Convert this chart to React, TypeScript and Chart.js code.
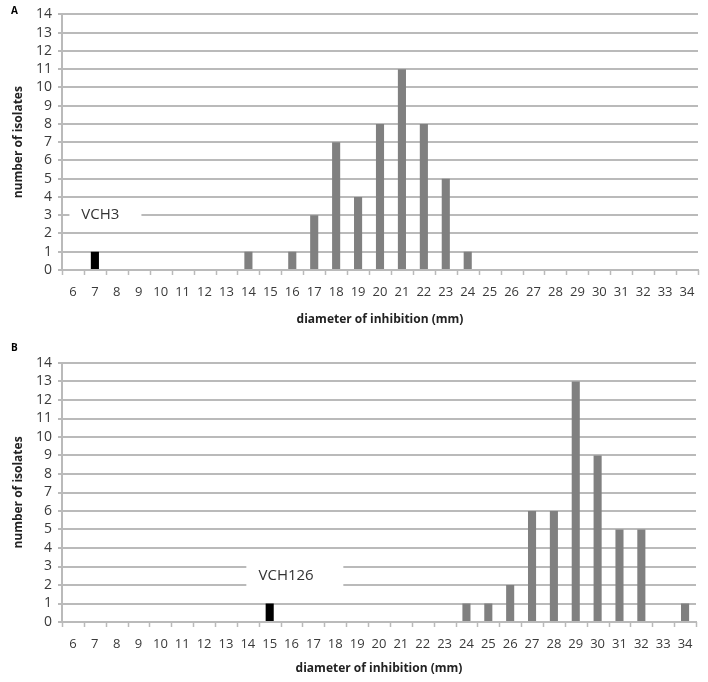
import React, { useEffect, useRef } from "react";
import { Chart, registerables } from "chart.js";

Chart.register(...registerables);

const diameters = [
  "6", "7", "8", "9", "10", "11", "12", "13", "14", "15", "16", "17", "18", "19", "20",
  "21", "22", "23", "24", "25", "26", "27", "28", "29", "30", "31", "32", "33", "34",
];
const isolatesA = [0, 1, 0, 0, 0, 0, 0, 0, 1, 0, 1, 3, 7, 4, 8, 11, 8, 5, 1, 0, 0, 0, 0, 0, 0, 0, 0, 0, 0];
const isolatesB = [0, 0, 0, 0, 0, 0, 0, 0, 0, 1, 0, 0, 0, 0, 0, 0, 0, 0, 1, 1, 2, 6, 6, 13, 9, 5, 5, 0, 1];
const referenceA = "7";
const referenceB = "15";
const strainA = "VCH3";
const strainB = "VCH126";
const yTicks = [0, 14];

const GRID = "#bababa";
const FONT = "'Open Sans', 'Liberation Sans', Arial, sans-serif";

const labelBoxPlugin = {
  id: "labelBox",
  beforeDatasetsDraw(chart: any, _args: any, opts: any) {
    if (!opts || !opts.text) return;
    const xs = chart.scales.x;
    const ys = chart.scales.y;
    const ctx = chart.ctx;
    const bx = xs.getPixelForValue(opts.boxX);
    const cy = ys.getPixelForValue(opts.y);
    ctx.save();
    ctx.fillStyle = "#ffffff";
    ctx.fillRect(bx - opts.w / 2, cy - opts.h / 2, opts.w, opts.h);
    ctx.fillStyle = "#333333";
    ctx.font = `15px ${FONT}`;
    ctx.textAlign = "center";
    ctx.textBaseline = "middle";
    ctx.fillText(opts.text, xs.getPixelForValue(opts.textX), cy);
    ctx.restore();
  },
};

const xTickMarksPlugin = {
  id: "xTickMarks",
  afterDraw(chart: any) {
    const xs = chart.scales.x;
    const ctx = chart.ctx;
    const yb = chart.chartArea.bottom;
    ctx.save();
    ctx.strokeStyle = GRID;
    ctx.lineWidth = 1.5;
    ctx.beginPath();
    for (let i = 0; i <= diameters.length; i++) {
      const px = Math.round(xs.getPixelForValue(i - 0.5)) + 0.5;
      ctx.moveTo(px, yb);
      ctx.lineTo(px, yb + 5);
    }
    ctx.stroke();
    ctx.restore();
  },
};

type PanelProps = {
  height: number;
  values: number[];
  reference: string;
  padTop: number;
  padRight: number;
  xAxisHeight: number;
  xTitlePad: number;
  box: any;
};

function Panel({ height, values, reference, padTop, padRight, xAxisHeight, xTitlePad, box }: PanelProps) {
  const ref = useRef<HTMLCanvasElement | null>(null);
  useEffect(() => {
    if (!ref.current) return;
    const chart = new Chart(ref.current, {
      type: "bar",
      data: {
        labels: diameters,
        datasets: [
          {
            data: values,
            backgroundColor: diameters.map((d) => (d === reference ? "#000000" : "#808080")),
            barPercentage: 1,
            categoryPercentage: 0.37,
            borderWidth: 0,
          },
        ],
      },
      options: {
        responsive: false,
        animation: false,
        layout: { padding: { top: padTop, right: padRight, left: 0, bottom: 0 } },
        plugins: {
          legend: { display: false },
          tooltip: { enabled: false },
          labelBox: box,
        } as any,
        scales: {
          x: {
            offset: true,
            grid: { display: false, tickLength: 5 },
            border: { display: true, color: GRID, width: 2 },
            ticks: {
              color: "#3a3a3a",
              font: { family: FONT, size: 13 },
              padding: 9,
              maxRotation: 0,
              autoSkip: false,
            },
            title: {
              display: true,
              text: "diameter of inhibition (mm)",
              color: "#222222",
              font: { family: FONT, size: 12, weight: "bold" },
              padding: { top: 0, bottom: xTitlePad },
            },
            afterFit: (s: any) => {
              s.height = xAxisHeight;
            },
          },
          y: {
            min: yTicks[0],
            max: yTicks[1],
            grid: {
              color: GRID,
              lineWidth: 2,
              drawTicks: true,
              tickLength: 4,
            },
            border: { display: true, color: GRID, width: 2 },
            ticks: {
              stepSize: 1,
              autoSkip: false,
              color: "#3a3a3a",
              font: { family: FONT, size: 14 },
              padding: 6,
            },
            title: {
              display: true,
              text: "number of isolates",
              color: "#222222",
              font: { family: FONT, size: 12, weight: "bold" },
              padding: { top: 11, bottom: 0 },
            },
            afterFit: (s: any) => {
              s.width = 62;
            },
          },
        },
      } as any,
      plugins: [labelBoxPlugin as any, xTickMarksPlugin as any],
    });
    return () => chart.destroy();
  }, []);
  return <canvas ref={ref} width={708} height={height} style={{ display: "block" }} />;
}

export default function App() {
  return (
    <div style={{ position: "fixed", left: 0, top: 0, width: 708, height: 682, background: "#fff" }}>
      <div style={{ position: "absolute", left: 0, top: 0 }}>
        <Panel
          height={335}
          values={isolatesA}
          reference={referenceA}
          padTop={11}
          padRight={10}
          xAxisHeight={65}
          xTitlePad={8}
          box={{ text: strainA, boxX: 1.48, textX: 1.25, y: 3, w: 72, h: 20 }}
        />
      </div>
      <div style={{ position: "absolute", left: 0, top: 335 }}>
        <Panel
          height={347}
          values={isolatesB}
          reference={referenceB}
          padTop={28}
          padRight={12}
          xAxisHeight={60}
          xTitlePad={6}
          box={{ text: strainB, boxX: 10.15, textX: 9.75, y: 2.5, w: 97, h: 30 }}
        />
      </div>
      <div style={{ position: "absolute", left: 11, top: 3, font: `bold 10px ${FONT}`, color: "#000" }}>A</div>
      <div style={{ position: "absolute", left: 11, top: 340, font: `bold 10px ${FONT}`, color: "#000" }}>B</div>
    </div>
  );
}
